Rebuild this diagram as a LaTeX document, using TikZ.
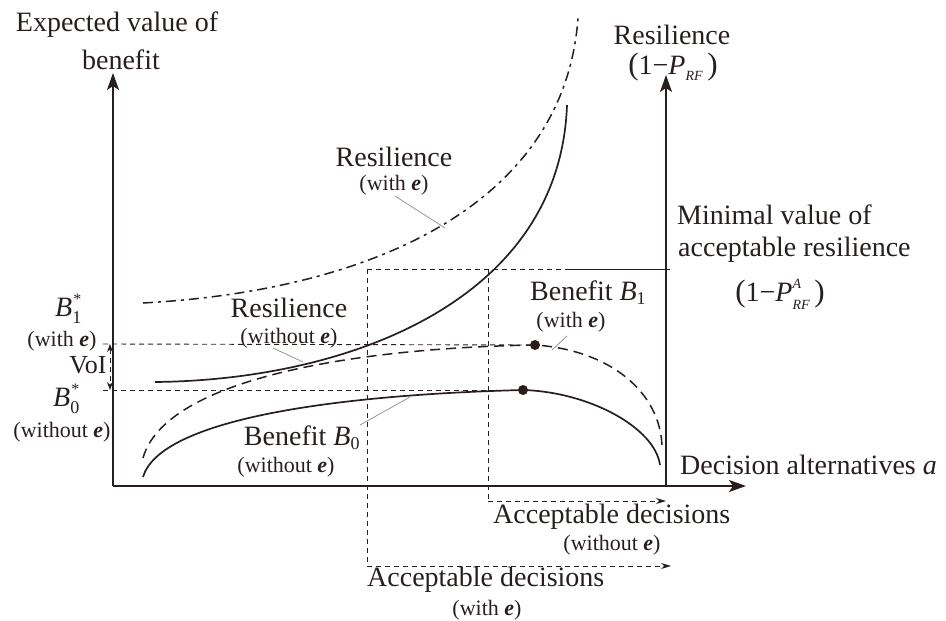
\documentclass[tikz,border=0pt]{standalone}
\usepackage{fontspec}
\setmainfont{Liberation Serif}
\usetikzlibrary{arrows.meta}
\definecolor{ink}{RGB}{40,30,30}
\definecolor{lead}{RGB}{150,150,150}
\newcommand{\bi}[1]{\textbf{\textit{#1}}}
\newcommand{\fsz}[1]{\fontsize{#1}{#1}\selectfont}
\newcommand{\Bstar}[1]{\textit{B}\rlap{\hspace{1pt}\raisebox{12pt}{\fsz{16}*}}\raisebox{-7pt}{\fsz{18}#1}}
\newcommand{\Bsub}[1]{\textit{B}$_{\mbox{\fsz{18}#1}}$}
\newcommand{\bigpar}[1]{{\fsz{31}#1}}
\tikzset{
  axisline/.style={draw=ink, line width=1.5pt, -{Stealth[length=17pt,width=12pt,inset=4pt]}},
  big/.style={font=\fsz{28}, text=ink, inner sep=0pt},
  small/.style={font=\fsz{22}, text=ink, inner sep=0pt},
  guide/.style={draw=ink, line width=0.9pt, dash pattern=on 5pt off 4pt},
  guidearrow/.style={guide, -{Stealth[length=10pt,width=6pt]}},
  curve/.style={draw=ink, line width=1.7pt},
  dcurve/.style={draw=ink, line width=1.5pt, dash pattern=on 10pt off 6pt},
  ddcurve/.style={draw=ink, line width=1.5pt, dash pattern=on 10pt off 5pt on 3pt off 5pt},
  leader/.style={draw=lead, line width=0.8pt},
  dot/.style={circle, fill=ink, inner sep=0pt, minimum size=10pt},
}
\begin{document}
\begin{tikzpicture}[x=1pt, y=-1pt]
\useasboundingbox (0,0) rectangle (946,621);

% axes
\coordinate (O) at (113,486);
\coordinate (Ytop) at (113,73);
\coordinate (Xend) at (746,486);
\coordinate (R0) at (666,486);
\coordinate (Rtop) at (666,75);
\draw[axisline] (O) -- (Ytop);
\draw[axisline] (O) -- (Xend);
\draw[axisline] (R0) -- (Rtop);

% dots
\node[dot] (d1) at (535,345) {};
\node[dot] (d0) at (523,390) {};

% horizontal guides to B* values
\coordinate (b1L) at (103,344);
\coordinate (b0L) at (103,390);
\draw[guide] (b1L) -- (d1.center);
\draw[guide] (b0L) -- (d0.center);
\coordinate (v1) at (110,344);
\coordinate (v0) at (110,390);
\draw[guide, {Stealth[length=8pt,width=6pt]}-{Stealth[length=8pt,width=6pt]}] (v1) -- (v0);

% minimal acceptable resilience line
\coordinate (m1) at (367,269);
\coordinate (m2) at (488,269);
\coordinate (m3) at (565,269);
\coordinate (m4) at (670,269);
\draw[guide] (m1) -- (m3);
\draw[draw=ink, line width=0.9pt] (m3) -- (m4);

% acceptable decision ranges
\coordinate (a1) at (367,566);
\coordinate (a2) at (671,566);
\coordinate (c1) at (488,501);
\coordinate (c2) at (666,501);
\draw[guide] (m1) -- (a1);
\draw[guidearrow] (a1) -- (a2);
\draw[guide] (m2) -- (c1);
\draw[guidearrow] (c1) -- (c2);

% curves
\coordinate (rwS) at (143,303);
\coordinate (rwE) at (578,18);
\draw[ddcurve] (rwS) .. controls (380,290) and (565,200) .. (rwE);
\coordinate (roS) at (155,382);
\coordinate (roE) at (567,105);
\draw[curve] (roS) .. controls (350,380) and (560,300) .. (roE);
\coordinate (b1S) at (143,458);
\coordinate (b1E) at (662,446);
\draw[dcurve] (b1S) .. controls (165,380) and (350,348) .. (d1.center)
   .. controls (610,350) and (660,392) .. (b1E);
\coordinate (b0S) at (143,477);
\coordinate (b0E) at (660,465);
\draw[curve] (b0S) .. controls (160,420) and (330,395) .. (d0.center)
   .. controls (590,392) and (655,428) .. (b0E);

% labels
\node[big] (ylab1) at (117,25) {Expected value of};
\node[big] (ylab2) at (121,60) {benefit};
\node[big] (rlab1) at (672,35) {Resilience};
\node[big] (rlab2) at (673,67) {\bigpar{(}1−\textit{P}\raisebox{-6pt}{\fsz{14}\textit{RF}}\,\bigpar{)}};
\node[big, anchor=west] (min1) at (677,215) {Minimal value of};
\node[big, anchor=west] (min2) at (678,250) {acceptable resilience};
\node[big, anchor=base] (min3) at (780,301) {\bigpar{(}1−\textit{P}\rlap{\raisebox{13pt}{\fsz{14}\textit{A}}}\raisebox{-8pt}{\fsz{14}\textit{RF}}\,\bigpar{)}};

\node[big] (rw1) at (394,157) {Resilience};
\node[small] (rw2) at (394,185) {(with \bi{e})};
\node[big] (ro1) at (289,308) {Resilience};
\node[small] (ro2) at (289,338) {(without \bi{e})};
\node[big, anchor=west] (b1a) at (530,293) {Benefit \Bsub{1}};
\node[small] (b1b) at (571,322) {(with \bi{e})};
\node[big] (b0a) at (302,438) {Benefit \Bsub{0}};
\node[small] (b0b) at (286,467) {(without \bi{e})};

\node[big, anchor=base west] (bs1) at (55,316) {\Bstar{1}};
\node[small] (bs1w) at (62,341) {(with \bi{e})};
\node[big, font=\fsz{26}] (voi) at (88,365) {VoI};
\node[big, anchor=base west] (bs0) at (53,406) {\Bstar{0}};
\node[small] (bs0w) at (62,432) {(without \bi{e})};

\node[big, anchor=west] (xlab) at (680,465) {Decision alternatives \textit{a}};
\node[big, anchor=west] (acc1) at (493,517) {Acceptable decisions};
\node[small] (acc1b) at (612,545) {(without \bi{e})};
\node[big, anchor=west] (acc2) at (367,580) {Acceptable decisions};
\node[small] (acc2b) at (487,610) {(with \bi{e})};

% leader lines
\coordinate (l1a) at (395,196);
\coordinate (l1b) at (445,228);
\draw[leader] (l1a) -- (l1b);
\coordinate (l2a) at (273,348);
\coordinate (l2b) at (303,362);
\draw[leader] (l2a) -- (l2b);
\coordinate (l3a) at (360,425);
\coordinate (l3b) at (410,397);
\draw[leader] (l3a) -- (l3b);
\coordinate (l4a) at (567,336);
\coordinate (l4b) at (552,350);
\draw[leader] (l4a) -- (l4b);
\end{tikzpicture}
\end{document}
